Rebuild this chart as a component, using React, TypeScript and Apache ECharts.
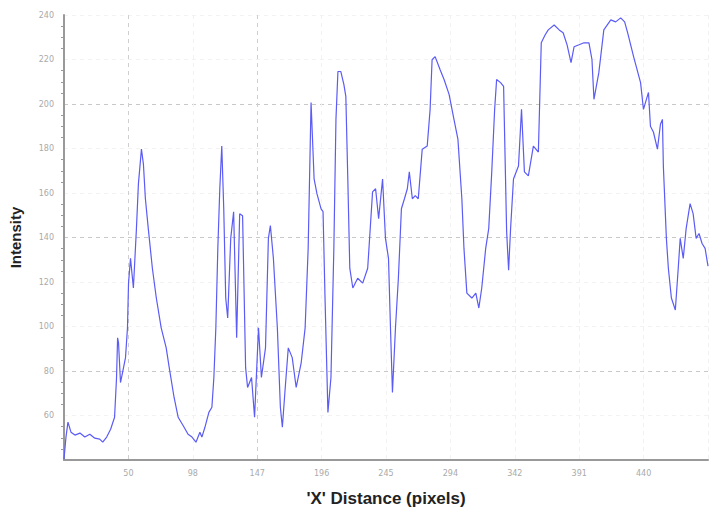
import React, { useEffect, useRef } from "react";
import * as echarts from "echarts";

const profileX = [
  0, 1.5, 3.0, 5.3, 8.3, 12.1, 15.8, 19.6, 23.4, 27.1, 29.4, 32.4, 35.4, 38.4, 39.9, 40.7, 41.4, 42.9, 45.2, 46.7,
  48.2, 49.0, 50.5, 52.7, 55.0, 56.5, 58.8, 60.3, 61.8, 64.0, 67.1, 70.1, 73.8, 77.6, 79.9, 83.6, 86.7, 91.2, 94.2, 97.2,
  100.2, 103.2, 104.7, 107.0, 110.0, 112.3, 113.8, 115.3, 116.8, 118.3, 119.8, 121.3, 122.8, 124.3, 126.6, 128.8, 131.1, 133.4, 135.6, 137.9,
  139.4, 142.4, 144.7, 147.7, 149.9, 153.0, 155.2, 156.7, 159.0, 162.0, 164.3, 165.8, 168.0, 170.3, 173.3, 176.3, 180.1, 183.1, 185.4, 187.6,
  189.9, 192.1, 195.2, 196.7, 198.2, 200.4, 202.7, 204.9, 206.5, 208.0, 210.2, 212.5, 214.0, 215.5, 217.0, 219.3, 223.0, 226.8, 230.6, 234.3,
  236.6, 238.9, 241.9, 244.1, 246.4, 247.9, 249.4, 251.7, 253.9, 256.2, 258.5, 260.7, 262.2, 264.5, 266.7, 269.0, 272.0, 275.8, 278.0, 279.5,
  281.8, 285.6, 288.6, 292.4, 296.1, 299.1, 302.1, 303.7, 305.9, 309.7, 312.7, 315.0, 317.2, 320.2, 322.5, 324.8, 327.0, 328.5, 331.5, 333.8,
  336.1, 337.6, 339.1, 341.3, 345.1, 347.4, 349.6, 352.6, 356.4, 360.2, 362.4, 365.4, 367.7, 372.2, 376.0, 379.0, 382.0, 385.0, 387.3, 391.1,
  394.8, 398.6, 400.9, 402.4, 406.1, 409.9, 415.2, 418.9, 422.7, 425.7, 428.0, 432.5, 437.8, 440.0, 443.8, 445.3, 447.6, 450.6, 452.9, 454.4,
  455.1, 457.4, 458.9, 461.2, 464.2, 466.4, 467.9, 470.2, 472.4, 475.4, 477.7, 480.0, 482.2, 484.5, 486.8, 489.0,
];

const profileY = [
  40.4, 50.3, 57.0, 52.5, 51.2, 52.1, 50.3, 51.6, 49.8, 49.4, 48.0, 50.3, 53.8, 59.2, 77.1, 94.9, 92.7, 74.8, 81.5, 86.0,
  99.4, 119.5, 130.6, 117.3, 144.0, 164.1, 179.7, 173.0, 157.4, 144.0, 126.2, 112.8, 99.4, 90.4, 81.5, 68.1, 59.2, 54.7, 51.6, 50.3,
  48.0, 52.5, 50.3, 54.7, 61.4, 63.7, 77.1, 99.4, 135.1, 161.9, 181.1, 152.9, 112.8, 103.8, 139.6, 151.6, 94.9, 150.7, 149.8, 81.5,
  72.6, 77.1, 59.2, 99.4, 77.1, 90.4, 139.6, 145.4, 130.6, 99.4, 63.7, 54.7, 72.6, 90.4, 86.0, 72.6, 83.7, 99.4, 135.1, 200.7,
  166.3, 159.6, 152.9, 151.6, 112.8, 61.4, 77.1, 135.1, 193.1, 214.6, 214.6, 208.8, 203.4, 166.3, 126.2, 117.3, 121.7, 119.5, 126.2, 160.5,
  161.9, 148.5, 166.3, 139.6, 130.6, 99.4, 70.4, 99.4, 121.7, 152.9, 157.4, 161.9, 169.5, 157.4, 158.8, 157.4, 179.7, 181.1, 197.6, 219.9,
  221.3, 215.4, 211.0, 204.3, 193.1, 184.2, 157.4, 135.1, 115.0, 112.8, 115.0, 108.3, 117.3, 135.1, 144.0, 169.5, 197.6, 211.0, 209.6, 207.9,
  142.7, 125.3, 144.0, 166.3, 172.1, 197.6, 169.5, 167.7, 181.1, 178.4, 227.5, 231.1, 233.3, 235.5, 233.3, 232.0, 226.6, 218.6, 225.7, 226.6,
  227.5, 227.5, 219.9, 202.1, 214.1, 233.3, 237.8, 236.9, 238.7, 236.9, 232.0, 221.3, 209.6, 197.6, 205.2, 190.0, 187.3, 179.7, 190.9, 193.1,
  172.1, 139.6, 126.2, 112.8, 107.4, 126.2, 139.6, 130.6, 144.0, 155.2, 150.7, 139.6, 141.8, 137.3, 135.1, 127.1,
];

const xTickLabels = ["50", "98", "147", "196", "245", "294", "342", "391", "440"];
const xStep = 48.9;
const xMax = 489;
const yMin = 40;
const yMax = 240;
const yStep = 20;

export default function App() {
  const ref = useRef<HTMLDivElement>(null);
  useEffect(() => {
    if (!ref.current) return;
    const chart = echarts.init(ref.current, null, { renderer: "svg" });
    const data = profileX.map((x, i) => [x, profileY[i]]);
    chart.setOption({
      animation: false,
      backgroundColor: "#ffffff",
      grid: { left: 59, right: 10, top: 15, bottom: 49, containLabel: false },
      xAxis: {
        type: "value",
        min: 0,
        max: xMax,
        interval: xStep,
        name: "'X' Distance (pixels)",
        nameLocation: "middle",
        nameGap: 30,
        nameTextStyle: { fontFamily: "Liberation Sans", fontWeight: "bold", fontSize: 17, color: "#222" },
        axisLine: { lineStyle: { color: "#999", width: 2 } },
        axisTick: { show: false },
        axisLabel: {
          fontSize: 8,
          color: "#aaa",
          fontFamily: "DejaVu Sans",
          margin: 9,
          interval: 0,
          hideOverlap: false,
          showMaxLabel: false,
          formatter: (v: number) => {
            const i = Math.round(v / xStep) - 1;
            return i >= 0 && i < xTickLabels.length ? xTickLabels[i] : "";
          },
        },
        splitLine: {
          show: true,
          lineStyle: {
            type: [4, 4],
            color: ["#f2f2f2", "#cfcfcf", "#f2f2f2", "#cfcfcf", "#f2f2f2", "#f2f2f2", "#f2f2f2", "#f2f2f2", "#f2f2f2", "#f2f2f2", "#f2f2f2"],
          },
        },
      },
      yAxis: {
        type: "value",
        min: yMin,
        max: yMax,
        interval: yStep,
        name: "Intensity",
        nameLocation: "middle",
        nameGap: 41,
        nameTextStyle: { fontFamily: "Liberation Sans", fontWeight: "bold", fontSize: 15, color: "#222" },
        axisLine: { show: true, lineStyle: { color: "#999", width: 2 } },
        axisTick: { show: false },
        minorTick: { show: true, splitNumber: 4, length: 3, lineStyle: { color: "#999" } },
        axisLabel: {
          fontSize: 8,
          color: "#aaa",
          fontFamily: "DejaVu Sans",
          margin: 10,
          showMinLabel: false,
        },
        splitLine: {
          show: true,
          lineStyle: { type: [4, 4], color: ["#f2f2f2", "#f2f2f2", "#c8c8c8"] },
        },
      },
      series: [
        {
          type: "line",
          data,
          showSymbol: false,
          symbol: "none",
          lineStyle: { color: "#5b5bf5", width: 1.2 },
        },
      ],
    });
    return () => chart.dispose();
  }, []);
  return <div ref={ref} style={{ width: 718, height: 512, position: "absolute", left: 0, top: 0 }} />;
}
